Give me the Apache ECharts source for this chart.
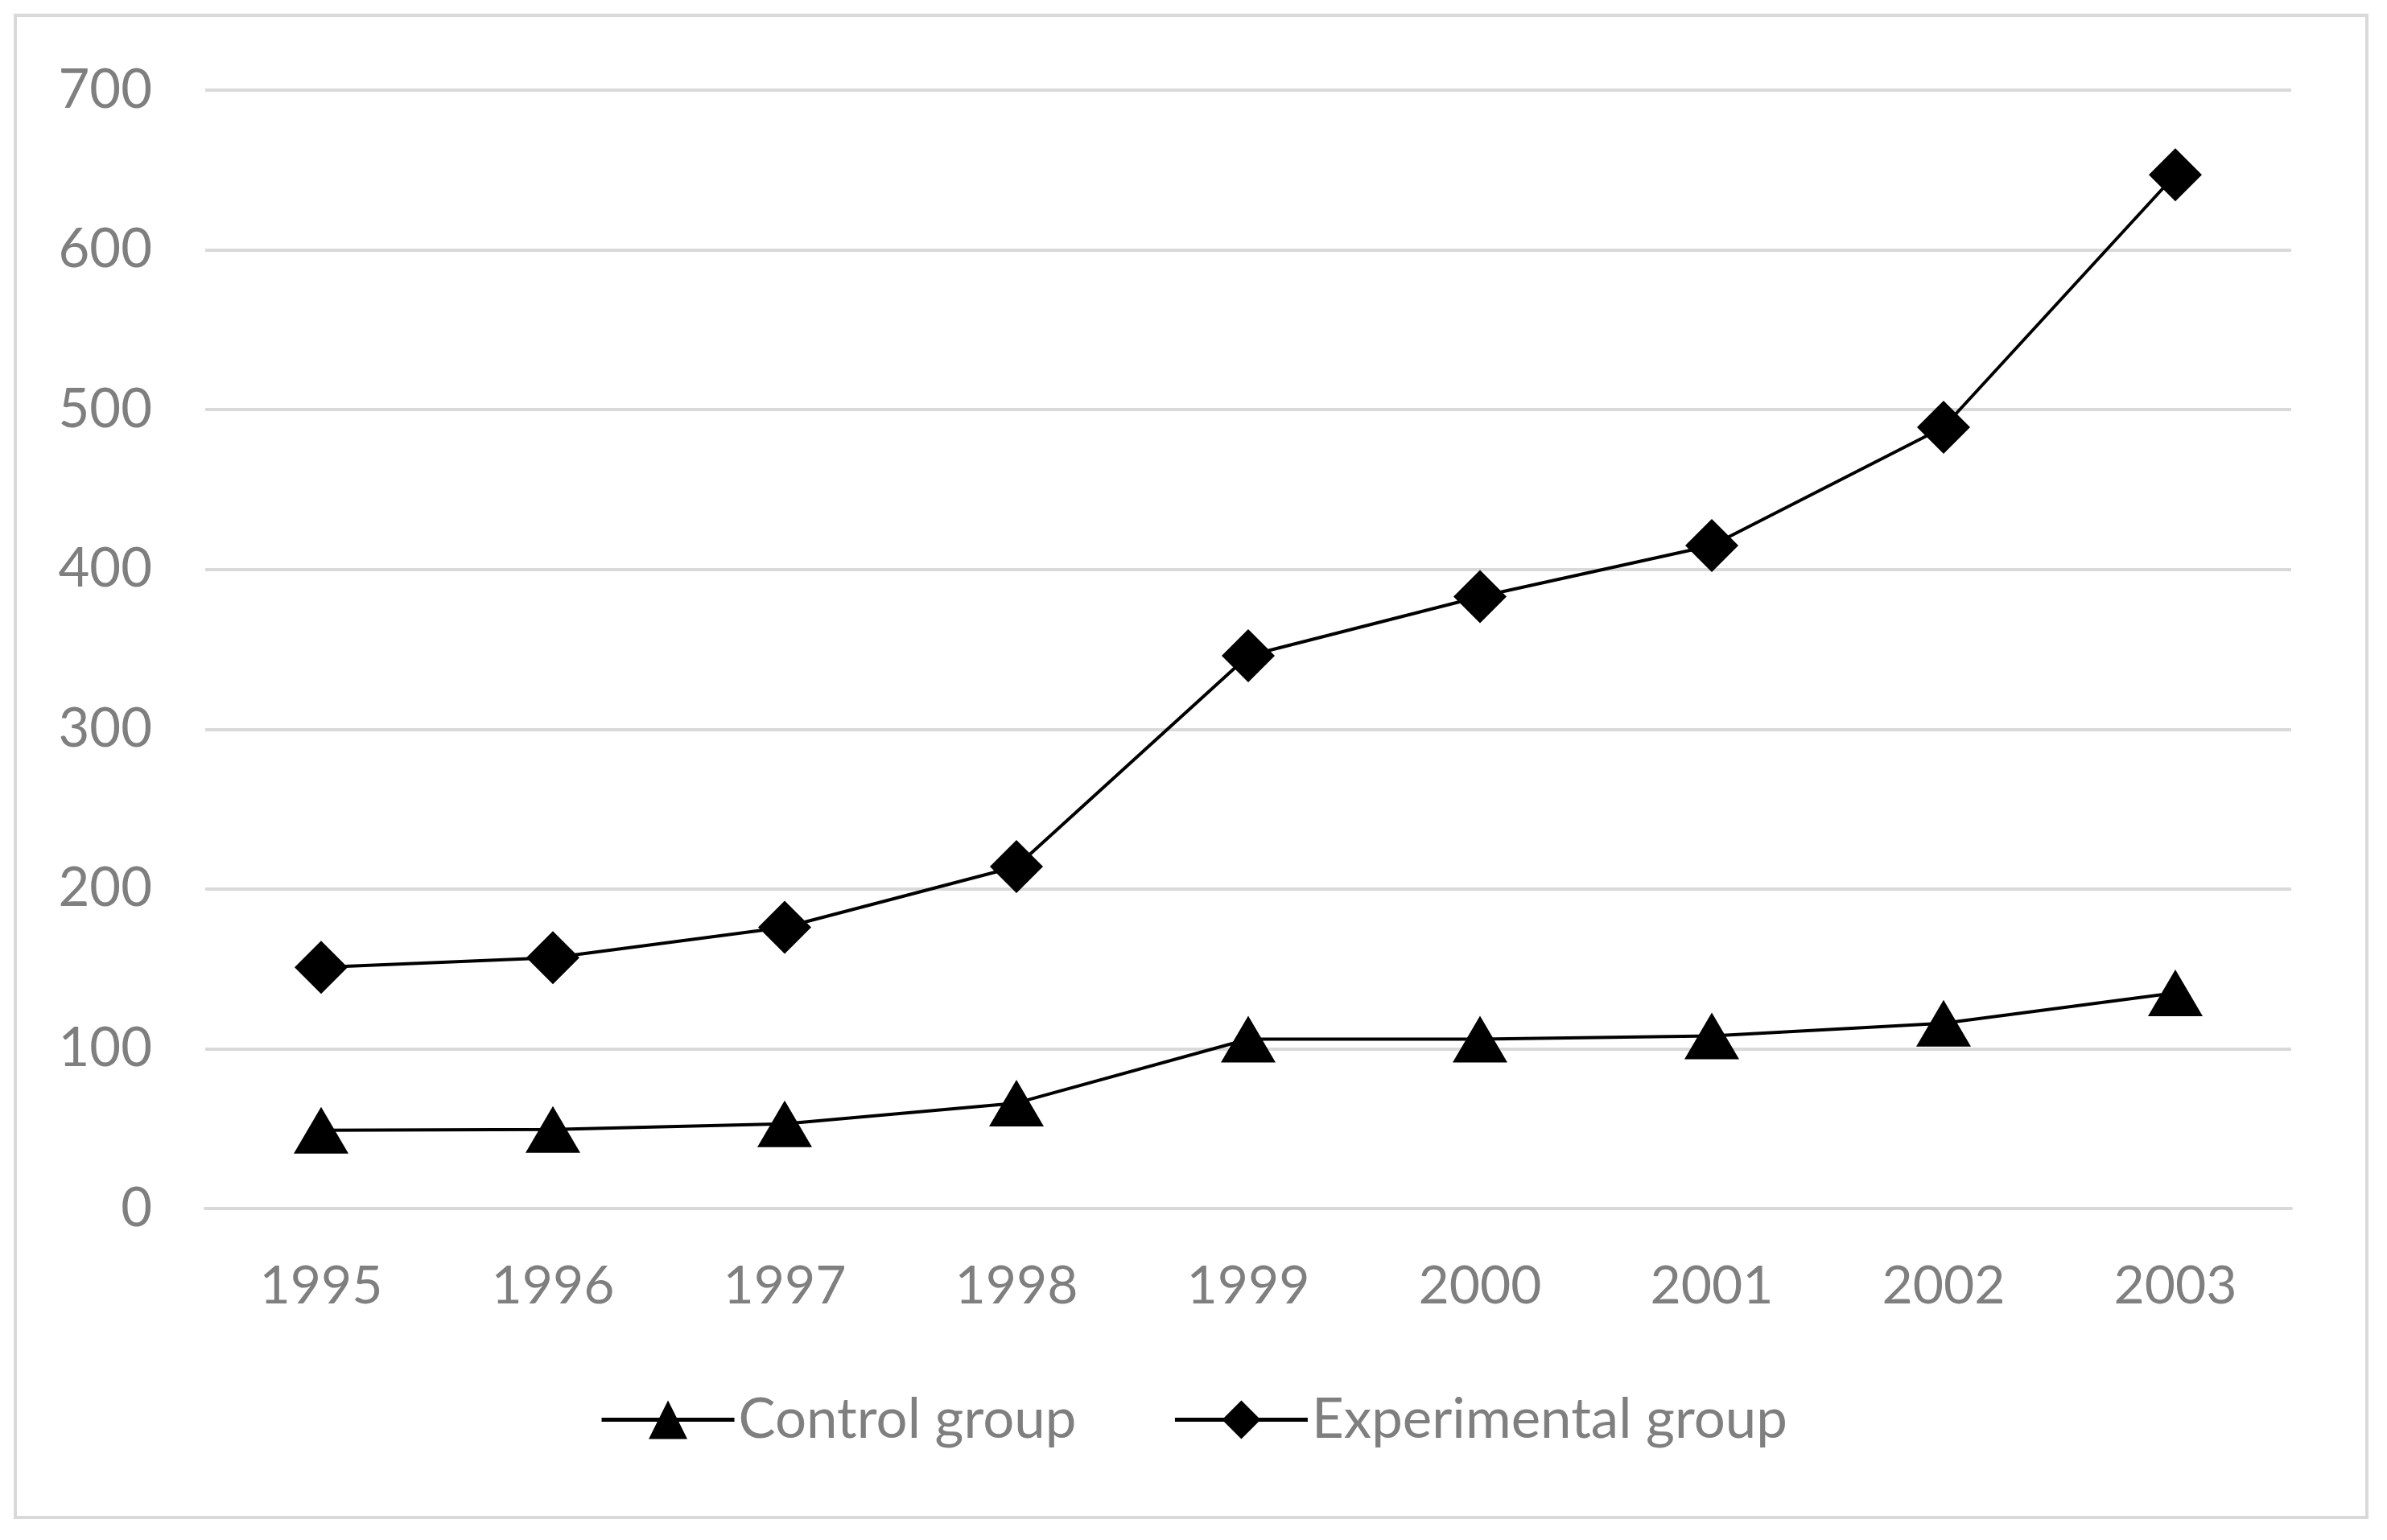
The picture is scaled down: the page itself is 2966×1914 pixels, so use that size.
<!DOCTYPE html>
<html>
<head>
<meta charset="utf-8">
<script src="https://cdn.jsdelivr.net/npm/echarts@6/dist/echarts.min.js"></script>
<style>
html,body{margin:0;padding:0;background:#fff;}
#chart{width:2966px;height:1914px;}
</style>
</head>
<body>
<div id="chart"></div>
<script>
const years = ['1995','1996','1997','1998','1999','2000','2001','2002','2003'];
const controlGroup = [49, 49.5, 53, 66, 106, 106, 108, 116, 135];
const experimentalGroup = [151, 157, 176, 214, 346, 383, 415, 489, 647];
const yTicks = {min: 0, max: 700, interval: 100};

const chart = echarts.init(document.getElementById('chart'));
const textColor = '#7f7f7f';
const fontFamily = 'Lato, "Liberation Sans", sans-serif';
chart.setOption({
  animation: false,
  backgroundColor: '#fff',
  graphic: [{
    type: 'rect',
    shape: {x: 19, y: 19, width: 2922, height: 1867},
    style: {fill: 'none', stroke: '#d9d9d9', lineWidth: 4},
    silent: true
  }],
  grid: {left: 255, right: 119, top: 112, bottom: 412, containLabel: false},
  legend: {
    bottom: 110,
    left: 'center',
    itemWidth: 165,
    itemHeight: 60,
    itemGap: 120,
    lineStyle: {width: 5},
    textStyle: {color: textColor, fontSize: 69, fontFamily: fontFamily},
    data: ['Control group', 'Experimental group']
  },
  xAxis: {
    type: 'category',
    data: years,
    boundaryGap: true,
    axisLine: {show: true, lineStyle: {color: '#d9d9d9', width: 4}},
    axisTick: {show: false},
    axisLabel: {color: textColor, fontSize: 66, fontFamily: fontFamily, margin: 64}
  },
  yAxis: {
    type: 'value',
    min: yTicks.min, max: yTicks.max, interval: yTicks.interval,
    axisLine: {show: false},
    axisTick: {show: false},
    splitLine: {lineStyle: {color: '#d9d9d9', width: 4}},
    axisLabel: {color: textColor, fontSize: 67, fontFamily: fontFamily, margin: 66}
  },
  series: [{
    name: 'Control group',
    type: 'line',
    data: controlGroup,
    symbol: 'triangle',
    symbolSize: [68, 58],
    showAllSymbol: true,
    lineStyle: {color: '#000', width: 4},
    itemStyle: {color: '#000'}
  }, {
    name: 'Experimental group',
    type: 'line',
    data: experimentalGroup,
    symbol: 'diamond',
    symbolSize: [66, 66],
    showAllSymbol: true,
    lineStyle: {color: '#000', width: 4},
    itemStyle: {color: '#000'}
  }]
});
</script>
</body>
</html>
